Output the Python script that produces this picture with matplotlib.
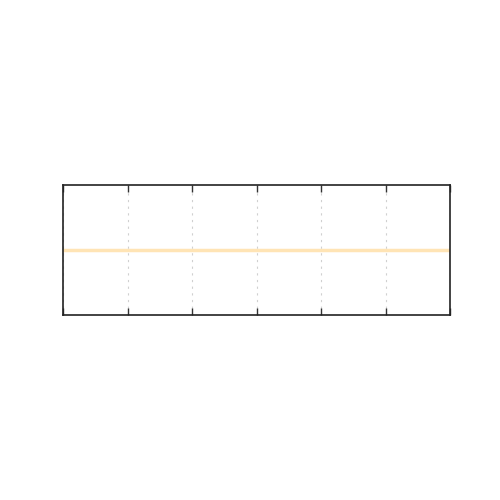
import matplotlib
matplotlib.use('Agg')
import matplotlib.pyplot as plt

x_values = [0, 1, 2, 3, 4, 5, 6]
y_values = [0, 0, 0, 0, 0, 0, 0]
x_ticks = [0, 1, 2, 3, 4, 5, 6]

fig = plt.figure(figsize=(5, 5), dpi=100)
ax = fig.add_axes([0.126, 0.37, 0.774, 0.26])

ax.plot(x_values, y_values, color='#ffe4b5', linewidth=2.5)

ax.set_xlim(0, 6)
ax.set_ylim(-1, 1)
ax.set_xticks(x_ticks)
ax.set_yticks([])
ax.tick_params(axis='x', direction='in', top=True, bottom=True,
               labelbottom=False, length=5, width=1, color='#333333')
ax.grid(axis='x', color='#d0d0d0', linestyle=(0, (2, 4)), linewidth=0.8)
for spine in ax.spines.values():
    spine.set_linewidth(1.2)
    spine.set_color('#222222')

fig.savefig('out.png', dpi=100)
